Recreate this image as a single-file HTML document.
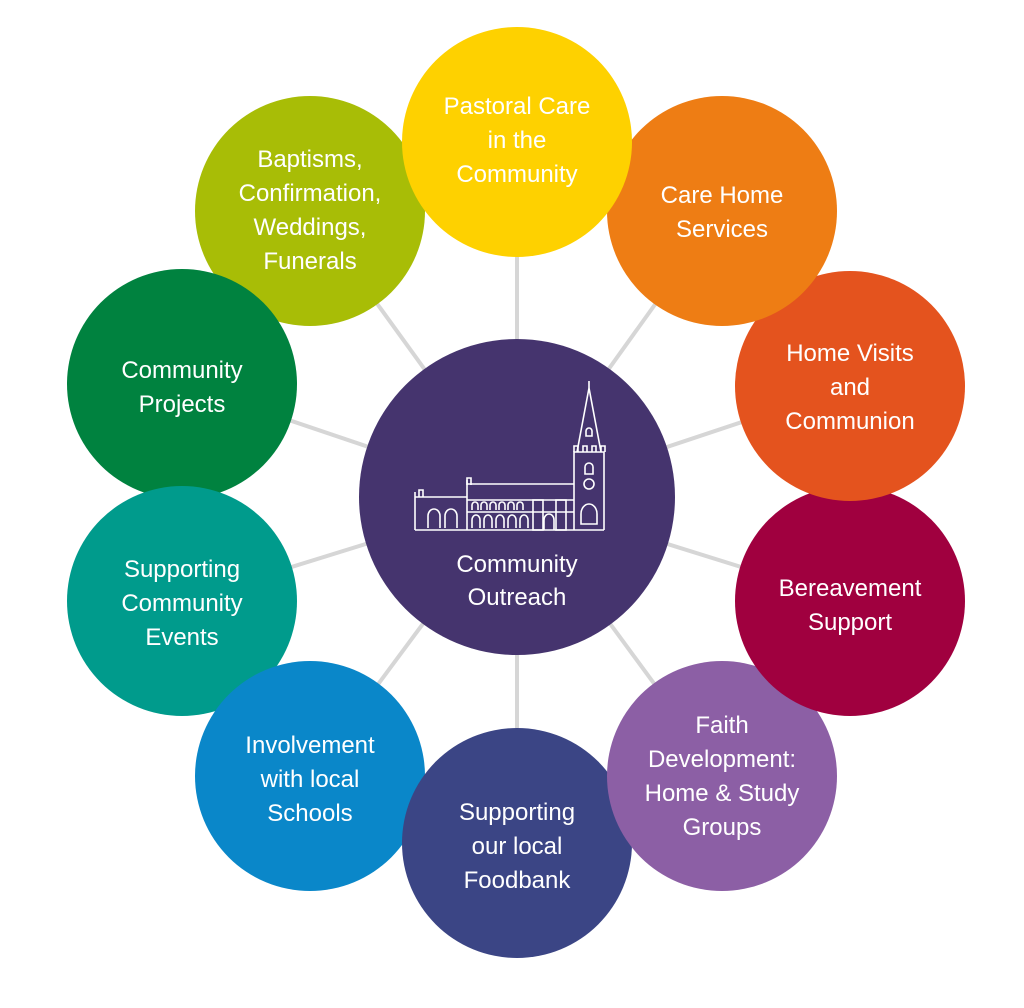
<!DOCTYPE html>
<html><head><style>body{margin:0;background:#fff}svg{display:block}text{font-family:"Liberation Sans",sans-serif;font-size:24px;fill:#fff;text-anchor:middle}</style></head><body>
<svg width="1024" height="1008" viewBox="0 0 1024 1008">
<g stroke="#d6d6d6" stroke-width="4">
<line x1="517" y1="497" x2="517" y2="142"/><line x1="517" y1="497" x2="722" y2="211"/><line x1="517" y1="497" x2="850" y2="386"/><line x1="517" y1="497" x2="850" y2="601"/><line x1="517" y1="497" x2="722" y2="776"/><line x1="517" y1="497" x2="517" y2="843"/><line x1="517" y1="497" x2="310" y2="776"/><line x1="517" y1="497" x2="182" y2="601"/><line x1="517" y1="497" x2="182" y2="384"/><line x1="517" y1="497" x2="310" y2="211"/>
</g>
<circle cx="310" cy="211" r="115" fill="#a8bd06"/>
<circle cx="182" cy="384" r="115" fill="#00823f"/>
<circle cx="182" cy="601" r="115" fill="#009b8c"/>
<circle cx="310" cy="776" r="115" fill="#0a87c9"/>
<circle cx="517" cy="843" r="115" fill="#3b4585"/>
<circle cx="722" cy="776" r="115" fill="#8c5fa5"/>
<circle cx="850" cy="601" r="115" fill="#a0003f"/>
<circle cx="850" cy="386" r="115" fill="#e4531e"/>
<circle cx="722" cy="211" r="115" fill="#ee7d14"/>
<circle cx="517" cy="142" r="115" fill="#fed100"/>
<circle cx="517" cy="497" r="158" fill="#45346e"/>
<g fill="none" stroke="#fff" stroke-width="1.6">
<path d="M415 530 H604 M415 530 V492 M415 497 H467 M467 530 V480 M467 484 H574 M574 530 V452 H604 V530"/>
<path d="M419 497 V490 h4 v7"/><path d="M467 485 V478 h4 v7"/>
<path d="M577 452 L589 388 L601 452"/><path d="M589 388 V381"/>
<path d="M574 452 v-6 h4 v6 m5 0 v-6 h4 v6 m5 0 v-6 h4 v6 m5 0 v-6 h4 v6"/>
<path d="M467 500 H574 M467 512 H574"/>
<path d="M428 528 v-12 a6 7 0 0 1 12 0 v12 M445 528 v-12 a6 7 0 0 1 12 0 v12"/>
<path d="M472 528 v-8 a4 5 0 0 1 8 0 v8 M484 528 v-8 a4 5 0 0 1 8 0 v8 M496 528 v-8 a4 5 0 0 1 8 0 v8 M508 528 v-8 a4 5 0 0 1 8 0 v8 M520 528 v-8 a4 5 0 0 1 8 0 v8"/>
<path d="M472 510 v-5 a3 3 0 0 1 6 0 v5 M481 510 v-5 a3 3 0 0 1 6 0 v5 M490 510 v-5 a3 3 0 0 1 6 0 v5 M499 510 v-5 a3 3 0 0 1 6 0 v5 M508 510 v-5 a3 3 0 0 1 6 0 v5 M517 510 v-5 a3 3 0 0 1 6 0 v5"/>
<rect x="533" y="500" width="10" height="30"/><rect x="556" y="500" width="10" height="30"/>
<path d="M544 530 v-10 a5 6 0 0 1 10 0 v10"/>
<circle cx="589" cy="484" r="5"/><path d="M585 474 v-7 a4 4 0 0 1 8 0 v7 z"/>
<path d="M581 524 v-10 a8 10 0 0 1 16 0 v10 z"/>
<path d="M586 436 v-5 a3 3 0 0 1 6 0 v5 z"/>
</g>
<text x="517" y="572">Community</text><text x="517" y="605">Outreach</text>
<text x="517" y="114">Pastoral Care</text><text x="517" y="148">in the</text><text x="517" y="182">Community</text>
<text x="722" y="203">Care Home</text><text x="722" y="237">Services</text>
<text x="850" y="361">Home Visits</text><text x="850" y="395">and</text><text x="850" y="429">Communion</text>
<text x="850" y="596">Bereavement</text><text x="850" y="630">Support</text>
<text x="722" y="733">Faith</text><text x="722" y="767">Development:</text><text x="722" y="801">Home &amp; Study</text><text x="722" y="835">Groups</text>
<text x="517" y="820">Supporting</text><text x="517" y="854">our local</text><text x="517" y="888">Foodbank</text>
<text x="310" y="753">Involvement</text><text x="310" y="787">with local</text><text x="310" y="821">Schools</text>
<text x="182" y="577">Supporting</text><text x="182" y="611">Community</text><text x="182" y="645">Events</text>
<text x="182" y="378">Community</text><text x="182" y="412">Projects</text>
<text x="310" y="167">Baptisms,</text><text x="310" y="201">Confirmation,</text><text x="310" y="235">Weddings,</text><text x="310" y="269">Funerals</text>
</svg>
</body></html>
